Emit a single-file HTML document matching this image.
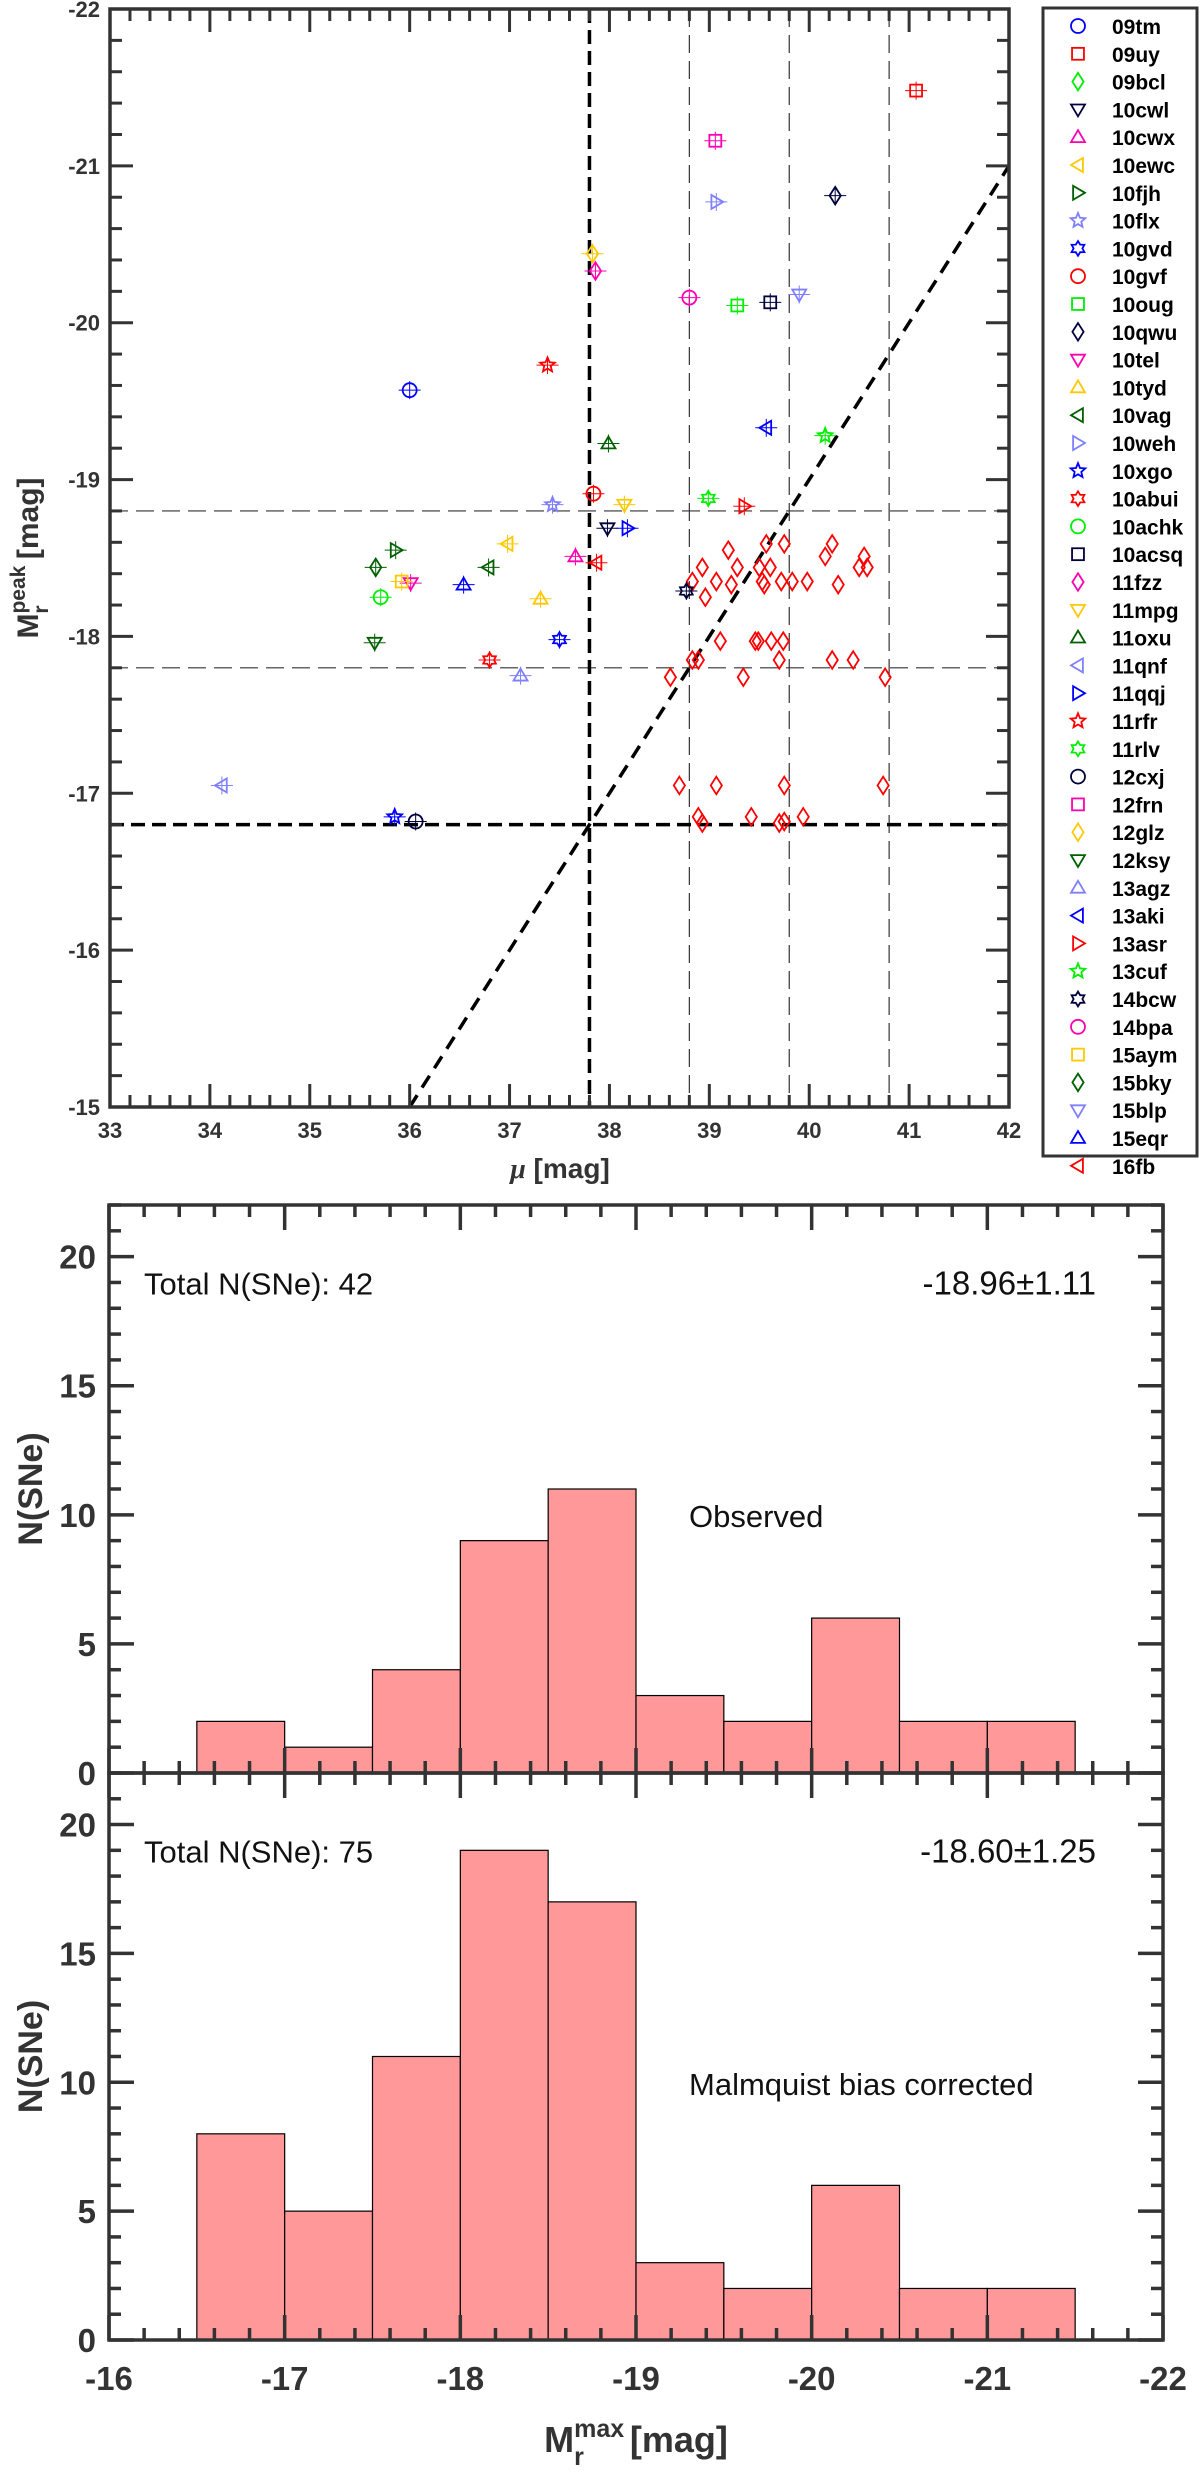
<!DOCTYPE html>
<html><head><meta charset="utf-8"><style>
html,body{margin:0;padding:0;background:#fff;}
svg{display:block;font-family:"Liberation Sans",Arial,sans-serif;}
</style></head><body>
<svg id="fig" width="1200" height="2482" viewBox="0 0 1200 2482" xmlns="http://www.w3.org/2000/svg"></svg>
<script>
// ---------- Scatter data ----------
const snNames = ["09tm","09uy","09bcl","10cwl","10cwx","10ewc","10fjh","10flx","10gvd","10gvf","10oug","10qwu","10tel","10tyd","10vag","10weh","10xgo","10abui","10achk","10acsq","11fzz","11mpg","11oxu","11qnf","11qqj","11rfr","11rlv","12cxj","12frn","12glz","12ksy","13agz","13aki","13asr","13cuf","14bcw","14bpa","15aym","15bky","15blp","15eqr","16fb"];
const snMu = [36.00,41.07,null,37.98,37.66,36.98,35.86,37.43,37.50,37.84,39.28,40.26,36.01,37.31,36.79,39.07,35.85,36.80,35.71,39.61,37.86,38.15,37.99,34.12,38.18,37.38,38.99,36.06,39.06,37.83,35.65,37.11,39.57,39.35,40.16,38.77,38.80,35.92,35.66,39.90,36.54,37.87];
const snMag = [-19.57,-21.48,null,-18.69,-18.51,-18.59,-18.55,-18.84,-17.98,-18.91,-20.11,-20.81,-18.34,-18.24,-18.44,-20.77,-16.85,-17.85,-18.25,-20.13,-20.33,-18.84,-19.23,-17.05,-18.69,-19.73,-18.88,-16.82,-21.16,-20.44,-17.96,-17.75,-19.33,-18.83,-19.28,-18.29,-20.16,-18.35,-18.44,-20.18,-18.33,-18.47];
const simMu = [39.57,39.75,40.23,39.19,40.16,40.55,38.93,39.28,39.50,39.61,40.50,40.58,38.83,39.07,39.53,39.72,39.83,39.98,39.22,39.55,40.29,38.96,39.11,39.46,39.49,39.62,39.74,40.23,40.44,39.70,38.83,38.89,38.61,39.34,40.76,38.70,39.07,39.75,40.74,38.89,38.93,39.42,39.70,39.75,39.94];
const simMag = [-18.59,-18.59,-18.59,-18.55,-18.51,-18.51,-18.44,-18.44,-18.44,-18.44,-18.44,-18.44,-18.35,-18.35,-18.35,-18.35,-18.35,-18.35,-18.33,-18.33,-18.33,-18.25,-17.97,-17.97,-17.97,-17.97,-17.97,-17.85,-17.85,-17.85,-17.85,-17.85,-17.74,-17.74,-17.74,-17.05,-17.05,-17.05,-17.05,-16.85,-16.81,-16.85,-16.81,-16.82,-16.85];
const muTicks = [33,34,35,36,37,38,39,40,41,42];
const magTicks = [-22,-21,-20,-19,-18,-17,-16,-15];
const vThick = [37.8], vThin = [38.8,39.8,40.8];
const hThick = [-16.8], hThin = [-17.8,-18.8];
// ---------- Histogram data ----------
const binEdges = [-16.5,-17,-17.5,-18,-18.5,-19,-19.5,-20,-20.5,-21,-21.5];
const countsObserved = [2,1,4,9,11,3,2,6,2,2];
const countsCorrected = [8,5,11,19,17,3,2,6,2,2];
const histXTicks = [-16,-17,-18,-19,-20,-21,-22];
const histYTicks = [0,5,10,15,20];

const colors = ["#0000ff","#ff0000","#00ee00","#00003c","#ff00b0","#ffc800","#006000","#8080ff"];
const markers = ["o","s","d","v","^","<",">","*","h"];
const NS="http://www.w3.org/2000/svg";
const svg=document.getElementById('fig');
function el(tag,attrs,parent){const e=document.createElementNS(NS,tag);for(const k in attrs)e.setAttribute(k,attrs[k]);(parent||svg).appendChild(e);return e;}
const AX="#333";

const SX0=110,SX1=1009,SY0=9,SY1=1107;
const sx=m=>SX0+(m-33)/(42-33)*(SX1-SX0);
const sy=M=>SY0+(M-(-22))/7*(SY1-SY0);

function starPts(cx,cy,r,n,inner){let p=[];for(let i=0;i<2*n;i++){const a=-Math.PI/2+i*Math.PI/n;const rr=i%2?r*inner:r;p.push((cx+rr*Math.cos(a)).toFixed(1)+","+(cy+rr*Math.sin(a)).toFixed(1));}return p.join(" ");}
function marker(g,type,cx,cy,col,r){
  const st={fill:"none",stroke:col,"stroke-width":1.8};
  let e;
  if(type==="o") e=el("circle",Object.assign({cx,cy,r:r},st),g);
  else if(type==="s") e=el("rect",Object.assign({x:cx-r*0.85,y:cy-r*0.85,width:r*1.7,height:r*1.7},st),g);
  else if(type==="d") e=el("polygon",Object.assign({points:`${cx},${cy-r*1.25} ${cx+r*0.8},${cy} ${cx},${cy+r*1.25} ${cx-r*0.8},${cy}`},st),g);
  else if(type==="v") e=el("polygon",Object.assign({points:`${cx-r},${cy-r*0.7} ${cx+r},${cy-r*0.7} ${cx},${cy+r}`},st),g);
  else if(type==="^") e=el("polygon",Object.assign({points:`${cx-r},${cy+r*0.7} ${cx+r},${cy+r*0.7} ${cx},${cy-r}`},st),g);
  else if(type==="<") e=el("polygon",Object.assign({points:`${cx+r*0.7},${cy-r} ${cx+r*0.7},${cy+r} ${cx-r},${cy}`},st),g);
  else if(type===">") e=el("polygon",Object.assign({points:`${cx-r*0.7},${cy-r} ${cx-r*0.7},${cy+r} ${cx+r},${cy}`},st),g);
  else if(type==="*") e=el("polygon",Object.assign({points:starPts(cx,cy,r*1.1,5,0.45)},st),g);
  else e=el("polygon",Object.assign({points:starPts(cx,cy,r*1.05,6,0.6)},st),g);
  return e;
}

const refG=el("g",{});


vThin.forEach(v=>{const l=el("line",{x1:sx(v),x2:sx(v),y1:SY0,y2:SY1,stroke:"#333","stroke-width":1.2,"stroke-dasharray":"18,8"},refG);});
hThin.forEach(v=>{const l=el("line",{x1:SX0,x2:SX1,y1:sy(v),y2:sy(v),stroke:"#333","stroke-width":1.2,"stroke-dasharray":"18,8"},refG);});
vThick.forEach(v=>{const l=el("line",{x1:sx(v),x2:sx(v),y1:SY0,y2:SY1,stroke:"#000","stroke-width":3.5,"stroke-dasharray":"14,7"},refG);});
hThick.forEach(v=>{const l=el("line",{x1:SX0,x2:SX1,y1:sy(v),y2:sy(v),stroke:"#000","stroke-width":3.5,"stroke-dasharray":"14,7"},refG);});
{const l=el("line",{x1:sx(36),y1:sy(-15),x2:sx(42),y2:sy(-21),stroke:"#000","stroke-width":3.5,"stroke-dasharray":"14,9"},refG);}

const simG=el("g",{});


for(let i=0;i<simMu.length;i++){const m=marker(simG,"d",sx(simMu[i]),sy(simMag[i]),"#ff0000",7);}

const ptG=el("g",{});


for(let i=0;i<snNames.length;i++){
  if(snMu[i]===null)continue;
  const cx=sx(snMu[i]),cy=sy(snMag[i]),col=colors[i%8];
  const g=el("g",{},ptG);
  
  
  el("line",{x1:cx-11,x2:cx+11,y1:cy,y2:cy,stroke:col,"stroke-width":1},g);
  el("line",{x1:cx,x2:cx,y1:cy-9,y2:cy+9,stroke:col,"stroke-width":1},g);
  marker(g,markers[i%9],cx,cy,col,7);
}

function axesBox(x0,y0,x1,y1,name){const r=el("rect",{x:x0,y:y0,width:x1-x0,height:y1-y0,fill:"none",stroke:AX,"stroke-width":3.5});}
const tg=el("g",{stroke:AX,"stroke-width":3});


for(let k=0;k<=45;k++){const v=33+k*0.2;const x=sx(v);const L=(k%5===0)?23:12;
  el("line",{x1:x,x2:x,y1:SY1,y2:SY1-L},tg);el("line",{x1:x,x2:x,y1:SY0,y2:SY0+L},tg);}
for(let k=0;k<=35;k++){const v=-22+k*0.2;const y=sy(v);const L=(k%5===0)?23:12;
  el("line",{x1:SX0,x2:SX0+L,y1:y,y2:y},tg);el("line",{x1:SX1,x2:SX1-L,y1:y,y2:y},tg);}
axesBox(SX0,SY0,SX1,SY1,"scatter-axes");
muTicks.forEach(v=>{const t=el("text",{x:sx(v),y:1138,"text-anchor":"middle","font-size":22,"font-weight":"bold",fill:AX});t.textContent=v;});
magTicks.forEach(v=>{const t=el("text",{x:100,y:sy(v)+8,"text-anchor":"end","font-size":22,"font-weight":"bold",fill:AX});t.textContent=v;});
{const t=el("text",{x:560,y:1178,"text-anchor":"middle","font-size":28,"font-weight":"bold",fill:AX});t.innerHTML='<tspan font-style="italic" font-family="Liberation Serif, serif">μ</tspan> [mag]';}
{const t=el("text",{transform:"translate(38,558) rotate(-90)","text-anchor":"middle","font-size":30,"font-weight":"bold",fill:AX});t.innerHTML='M<tspan font-size="21" dy="-13">peak</tspan><tspan font-size="21" dx="-48" dy="23">r</tspan><tspan dx="38" dy="-10"> [mag]</tspan>';}

const lg=el("g",{});


el("rect",{x:1043,y:8,width:154,height:1148,fill:"#fff",stroke:AX,"stroke-width":3},lg);
snNames.forEach((n,i)=>{const y=26+i*27.8;const g=el("g",{},lg);
  
  
  marker(g,markers[i%9],1078,y,colors[i%8],7);
  const t=el("text",{x:1112,y:y+8,"font-size":21,"font-weight":"bold",fill:"#000"},g);t.textContent=n;});

const HX0=109,HX1=1163;
const hx=m=>HX0+(-16-m)/6*(HX1-HX0);
function hist(top,bottom,counts,name,total,stat,lab,labY){
  const hy=c=>bottom-c/22*(bottom-top);
  const g=el("g",{});
  
  
  for(let i=0;i<counts.length;i++){const xa=hx(binEdges[i]),xb=hx(binEdges[i+1]);
    const b=el("rect",{x:xa,y:hy(counts[i]),width:xb-xa,height:bottom-hy(counts[i]),fill:"#ff9999",stroke:"#000","stroke-width":1.2},g);
    }
  const t=el("g",{stroke:AX,"stroke-width":3.5},g);
  for(let k=0;k<=30;k++){const x=hx(-16-k*0.2);const L=(k%5===0)?25:12;
    el("line",{x1:x,x2:x,y1:bottom,y2:bottom-L},t);el("line",{x1:x,x2:x,y1:top,y2:top+L},t);}
  for(let k=0;k<=22;k++){const y=hy(k);const L=(k%5===0)?25:12;
    el("line",{x1:HX0,x2:HX0+L,y1:y,y2:y},t);el("line",{x1:HX1,x2:HX1-L,y1:y,y2:y},t);}
  histYTicks.forEach(v=>{const tt=el("text",{x:96,y:hy(v)+12,"text-anchor":"end","font-size":33,"font-weight":"bold",fill:AX},g);tt.textContent=v;});
  const a=el("text",{x:144,y:hy(20)+38,"font-size":31,fill:"#111"},g);a.textContent="Total N(SNe): "+total;
  const s=el("text",{x:1096,y:hy(20)+38,"text-anchor":"end","font-size":33,fill:"#111"},g);s.textContent=stat;
  const l=el("text",{x:689,y:labY+11,"font-size":31,fill:"#111"},g);l.textContent=lab;
  const yl=el("text",{transform:`translate(42,${(top+bottom)/2}) rotate(-90)`,"text-anchor":"middle","font-size":34,"font-weight":"bold",fill:AX},g);yl.textContent="N(SNe)";
  axesBox(HX0,top,HX1,bottom,name+'-axes');
}
hist(1205,1773,countsObserved,"observed-histogram",42,"-18.96±1.11","Observed",1516);
hist(1773,2340,countsCorrected,"corrected-histogram",75,"-18.60±1.25","Malmquist bias corrected",2084);
histXTicks.forEach(v=>{const t=el("text",{x:hx(v),y:2390,"text-anchor":"middle","font-size":33,"font-weight":"bold",fill:AX});t.textContent=v;});
{const t=el("text",{x:636,y:2452,"text-anchor":"middle","font-size":36,"font-weight":"bold",fill:AX});t.innerHTML='M<tspan font-size="25" dy="-15">max</tspan><tspan font-size="25" dx="-50" dy="28">r</tspan><tspan dx="36" dy="-13"> [mag]</tspan>';}
</script>
</body></html>
